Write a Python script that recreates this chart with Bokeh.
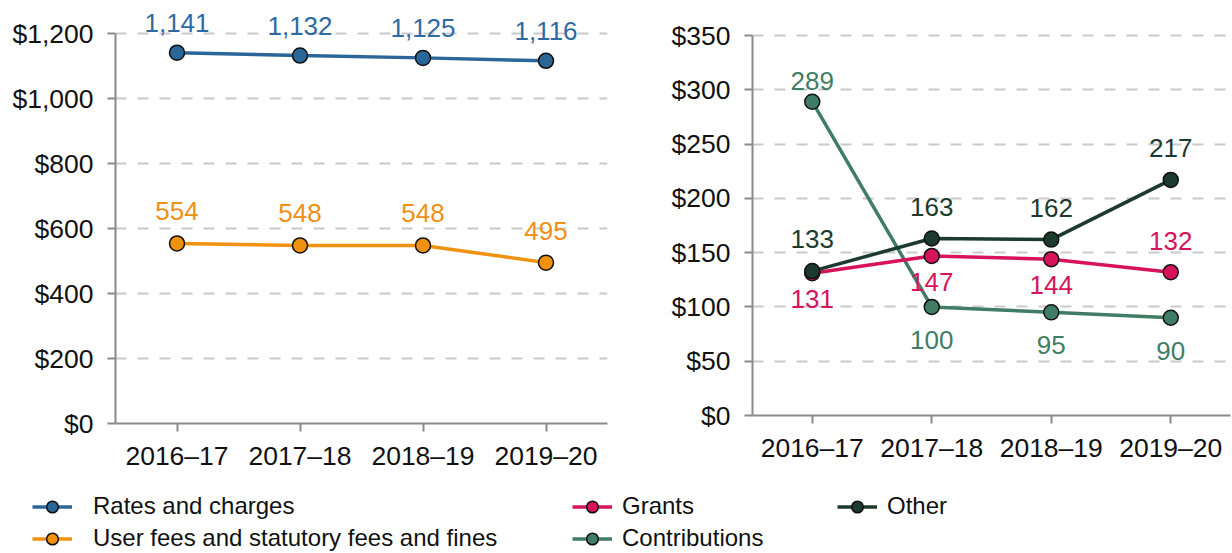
from bokeh.plotting import figure
from bokeh.models import (ColumnDataSource, Range1d, FactorRange, LabelSet, Legend,
                          LegendItem, FixedTicker, NumeralTickFormatter)
from bokeh.core.properties import value
from bokeh.layouts import column, row
from bokeh.embed import file_html
from bokeh.resources import INLINE

# ---------------- data ----------------
years = ["2016–17", "2017–18", "2018–19", "2019–20"]
rates = [1141, 1132, 1125, 1116]
user_fees = [554, 548, 548, 495]
grants = [131, 147, 144, 132]
contributions = [289, 100, 95, 90]
other = [133, 163, 162, 217]
left_ticks = [0, 200, 400, 600, 800, 1000, 1200]
right_ticks = [0, 50, 100, 150, 200, 250, 300, 350]

# label placement per point: +1 above, -1 below
rates_pos = [1, 1, 1, 1]
user_pos = [1, 1, 1, 1]
grants_pos = [-1, -1, -1, 1]
contrib_pos = [1, -1, -1, -1]
other_pos = [1, 1, 1, 1]

FONT = "Liberation Sans"
C_BLUE = "#2B6699"
C_BLUE_LBL = "#2E6BA3"
C_ORANGE = "#F0920F"
C_GRANTS = "#D6135B"
C_CONTRIB = "#3F7D66"
C_OTHER = "#1C3A2E"
AXIS_C = "#8A8A8A"
GRID_C = "#CACACA"
TICK_FS = "26.5px"
LBL_FS = "26px"

TOP = 4      # common frame top (px)
BOTTOM = 65  # common bottom border (px)


def style(p, ticks, fmt):
    p.outline_line_color = None
    p.xgrid.grid_line_color = None
    p.ygrid.grid_line_color = GRID_C
    p.ygrid.grid_line_width = 2
    p.ygrid.grid_line_dash = "11 11"
    p.yaxis.ticker = FixedTicker(ticks=ticks)
    p.yaxis.formatter = NumeralTickFormatter(format=fmt)
    p.yaxis.bounds = (ticks[0], ticks[-1])
    for ax in (p.xaxis, p.yaxis):
        ax.axis_line_color = AXIS_C
        ax.axis_line_width = 2
        ax.major_tick_line_color = AXIS_C
        ax.major_tick_line_width = 2
        ax.major_tick_in = 0
        ax.major_tick_out = 8
        ax.minor_tick_line_color = None
        ax.major_label_text_font = FONT
        ax.major_label_text_font_size = TICK_FS
        ax.major_label_text_color = "#111111"
    p.xaxis.major_label_standoff = 9
    p.yaxis.major_label_standoff = 14


def series(p, vals, pos, color, lbl_color, above=30, below=31):
    src = ColumnDataSource(dict(
        x=years, y=vals,
        t=[f"{v:,}" for v in vals],
        dy=[above if s > 0 else -below for s in pos],
    ))
    p.line("x", "y", source=src, line_color=color, line_width=3.5)
    p.scatter("x", "y", source=src, size=15, fill_color=color,
              line_color="#111111", line_width=1.5)
    p.add_layout(LabelSet(x="x", y="y", text="t", source=src, y_offset="dy",
                          text_align="center", text_baseline="middle",
                          text_font=value(FONT), text_font_size=value(LBL_FS),
                          text_color=lbl_color))


# ---------------- left chart ----------------
# value 0 at y=423 px, 1200 at y=33 px
left_top = 1200 * (423 - TOP) / (423 - 33)
p1 = figure(width=620, height=423 + BOTTOM, x_range=FactorRange(*years),
            y_range=Range1d(0, left_top), output_backend="svg",
            toolbar_location=None, min_border_left=115, min_border_right=13,
            min_border_top=TOP, min_border_bottom=BOTTOM)
style(p1, left_ticks, "$0,0")
series(p1, user_fees, user_pos, C_ORANGE, "#EE9016", above=32)
series(p1, rates, rates_pos, C_BLUE, C_BLUE_LBL, above=30)

# ---------------- right chart ----------------
# value 0 at y=415 px, 350 at y=35 px
right_top = 350 * (415 - TOP) / (415 - 35)
p2 = figure(width=612, height=415 + BOTTOM, x_range=FactorRange(*years),
            y_range=Range1d(0, right_top), output_backend="svg",
            toolbar_location=None, min_border_left=132, min_border_right=2,
            min_border_top=TOP, min_border_bottom=BOTTOM)
style(p2, right_ticks, "$0,0")
series(p2, contributions, contrib_pos, C_CONTRIB, C_CONTRIB, above=21, below=33)
series(p2, grants, grants_pos, C_GRANTS, C_GRANTS, above=31, below=26)
series(p2, other, other_pos, C_OTHER, C_OTHER, above=32)

# ---------------- legend strip ----------------
# renderers hold the real series but sit outside the strip's visible range
lf = figure(width=1232, height=65, x_range=FactorRange(*years), y_range=Range1d(-2, -1),
            output_backend="svg", toolbar_location=None,
            x_axis_location=None, y_axis_location=None,
            min_border_left=0, min_border_right=0, min_border_top=0, min_border_bottom=0)
lf.grid.visible = False
lf.outline_line_color = None


def legend_item(label, vals, color):
    r1 = lf.line(x=years, y=vals, line_color=color, line_width=3.5)
    r2 = lf.scatter(x=years, y=vals, size=15, fill_color=color,
                    line_color="#111111", line_width=1.5)
    return LegendItem(label=label, renderers=[r1, r2])


def make_legend(items, x, y, standoff):
    lg = Legend(items=items, location=(x, y), orientation="vertical",
                label_text_font=FONT, label_text_font_size="24px",
                label_text_color="#111111",
                glyph_width=40, glyph_height=29, label_height=29,
                spacing=3, padding=0, margin=0, label_standoff=standoff,
                border_line_color=None, background_fill_alpha=0)
    lf.add_layout(lg)


make_legend([legend_item("Rates and charges", rates, C_BLUE),
             legend_item("User fees and statutory fees and fines", user_fees, C_ORANGE)],
            32, 0.5, 21)
make_legend([legend_item("Grants", grants, C_GRANTS),
             legend_item("Contributions", contributions, C_CONTRIB)],
            572, 0.5, 10)
make_legend([legend_item("Other", other, C_OTHER)], 837, 32.5, 10)

layout = column(row(p1, p2), lf)
open("out.html", "w").write(file_html(layout, INLINE))
